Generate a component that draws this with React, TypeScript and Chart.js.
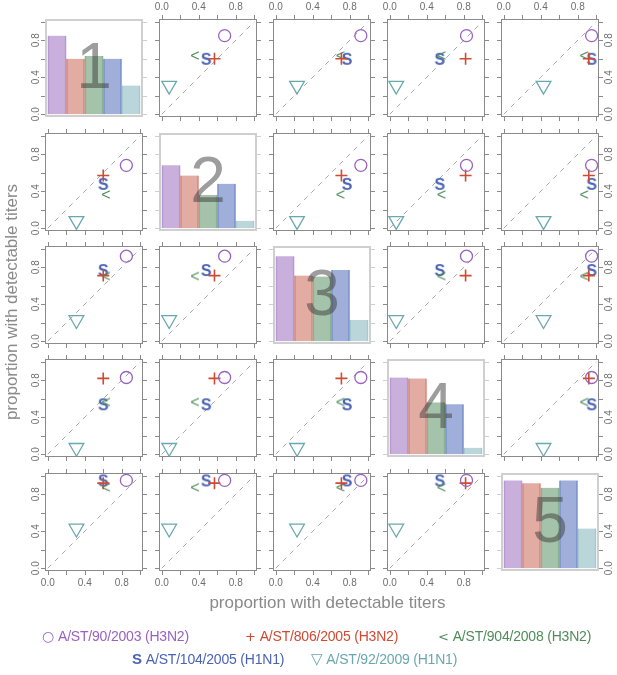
import React, { useEffect, useRef } from 'react';
import { Chart, registerables } from 'chart.js';
Chart.register(...registerables);

// ---------------- data ----------------
const strainNames = [
  'A/ST/90/2003 (H3N2)',
  'A/ST/806/2005 (H3N2)',
  'A/ST/904/2008 (H3N2)',
  'A/ST/104/2005 (H1N1)',
  'A/ST/92/2009 (H1N1)',
];
const strainSymbols = ['○', '+', '<', 'S', '▽'];
const strainColors = ['#9a62c0', '#cf4a33', '#4f8c5a', '#4a63b5', '#6aa8b0'];
const barFills = [
  'rgba(145,95,185,0.5)',
  'rgba(190,70,50,0.45)',
  'rgba(75,135,85,0.5)',
  'rgba(65,95,180,0.5)',
  'rgba(105,165,175,0.45)',
];
const groupLabels = ['1', '2', '3', '4', '5'];
const group1 = [0.85, 0.6, 0.63, 0.6, 0.31];
const group2 = [0.68, 0.57, 0.36, 0.48, 0.08];
const group3 = [0.92, 0.71, 0.7, 0.77, 0.23];
const group4 = [0.83, 0.82, 0.56, 0.54, 0.07];
const group5 = [0.95, 0.92, 0.87, 0.95, 0.43];
const groups = [group1, group2, group3, group4, group5];
const tickValues = [0, 0.2, 0.4, 0.6, 0.8, 1];
const labeledTicks = [0, 0.4, 0.8];
const tickLabels = ['0.0', '0.4', '0.8'];
const axisTitle = 'proportion with detectable titers';

// ---------------- layout ----------------
const COL_X = [45, 159, 273, 387, 501];
const ROW_Y = [19, 133, 246, 359, 473];
const PANEL = 98;
const MARGIN = 26;
const FONT = '"Liberation Sans", Arial, sans-serif';

function makeGlyph(text: string, color: string, font: string, dy: number) {
  const c = document.createElement('canvas');
  c.width = 24;
  c.height = 24;
  const g = c.getContext('2d')!;
  g.font = font;
  g.fillStyle = color;
  g.textAlign = 'center';
  g.textBaseline = 'alphabetic';
  g.fillText(text, 12, 12 + dy);
  return c;
}

function Panel({ row, col }: { row: number; col: number }) {
  const ref = useRef<HTMLCanvasElement>(null);
  useEffect(() => {
    const isDiag = row === col;
    const n = strainNames.length;

    const decorPlugin = {
      id: 'decor',
      afterDatasetsDraw(chart: any) {
        if (!isDiag) return;
        const { ctx, chartArea: a } = chart;
        ctx.save();
        ctx.font = `64px ${FONT}`;
        ctx.fillStyle = 'rgba(60,60,60,0.5)';
        ctx.textAlign = 'center';
        ctx.textBaseline = 'alphabetic';
        ctx.fillText(groupLabels[row], (a.left + a.right) / 2, (a.top + a.bottom) / 2 + 20);
        ctx.restore();
      },
      afterDraw(chart: any) {
        const { ctx, chartArea: a, scales } = chart;
        const xs = scales.x;
        const ys = scales.y;
        const dark = '#8a8a8a';
        const light = '#cfcfcf';
        ctx.save();
        ctx.lineWidth = 1;
        if (isDiag) {
          ctx.strokeStyle = light;
          ctx.lineWidth = 2;
          ctx.strokeRect(a.left + 1, a.top + 1, a.right - a.left - 2, a.bottom - a.top - 2);
          ctx.lineWidth = 1;
        } else {
          ctx.strokeStyle = dark;
          ctx.strokeRect(a.left + 0.5, a.top + 0.5, a.right - a.left - 1, a.bottom - a.top - 1);
        }
        const L = 4;
        const drawTicks = (side: string, color: string) => {
          ctx.strokeStyle = color;
          ctx.beginPath();
          for (const v of tickValues) {
            if (side === 'top' || side === 'bottom') {
              const px = Math.round(xs.getPixelForValue(v)) + 0.5;
              const y0 = side === 'top' ? a.top : a.bottom;
              const dir = side === 'top' ? -1 : 1;
              ctx.moveTo(px, y0);
              ctx.lineTo(px, y0 + dir * L);
            } else {
              const py = Math.round(ys.getPixelForValue(v)) + 0.5;
              const x0 = side === 'left' ? a.left : a.right;
              const dir = side === 'left' ? -1 : 1;
              ctx.moveTo(x0, py);
              ctx.lineTo(x0 + dir * L, py);
            }
          }
          ctx.stroke();
        };
        if (isDiag) {
          drawTicks('left', col === 0 ? dark : light);
          drawTicks('right', col === n - 1 ? dark : light);
        } else {
          drawTicks('top', dark);
          drawTicks('bottom', dark);
          drawTicks('left', dark);
          drawTicks('right', dark);
        }
        ctx.fillStyle = '#6e6e6e';
        ctx.font = `10px ${FONT}`;
        ctx.textAlign = 'center';
        ctx.textBaseline = 'middle';
        labeledTicks.forEach((v, i) => {
          const t = tickLabels[i];
          if (row === 0 && col > 0) {
            ctx.fillText(t, xs.getPixelForValue(v), a.top - 12);
          }
          if (row === n - 1 && col < n - 1) {
            ctx.fillText(t, xs.getPixelForValue(v), a.bottom + 12);
          }
          if (col === 0) {
            ctx.save();
            ctx.translate(a.left - 9, ys.getPixelForValue(v));
            ctx.rotate(-Math.PI / 2);
            ctx.fillText(t, 0, 0);
            ctx.restore();
          }
          if (col === n - 1) {
            ctx.save();
            ctx.translate(a.right + 10, ys.getPixelForValue(v));
            ctx.rotate(-Math.PI / 2);
            ctx.fillText(t, 0, 0);
            ctx.restore();
          }
        });
        ctx.restore();
      },
    };

    let data: any;
    if (isDiag) {
      data = {
        datasets: [
          {
            data: groups[row].map((v, i) => ({ x: (i + 0.5) / n, y: v })),
            backgroundColor: barFills,
            borderColor: barFills,
            borderWidth: { left: 1, right: 1, top: 0, bottom: 0 },
            borderSkipped: false,
            categoryPercentage: 1,
            barPercentage: 1,
          },
        ],
      };
    } else {
      const glyphS = makeGlyph('S', strainColors[3], `bold 16px ${FONT}`, 6);
      const glyphLt = makeGlyph('<', strainColors[2], `16px ${FONT}`, 5);
      const styles: any[] = ['circle', 'cross', glyphLt, glyphS, 'triangle'];
      const radii = [6, 6, 6, 6, 8.5];
      const rotations = [0, 0, 0, 0, 180];
      data = {
        datasets: [
          ...strainNames.map((name, k) => ({
            label: name,
            data: [{ x: groups[col][k], y: groups[row][k] }],
            pointStyle: styles[k],
            pointRadius: radii[k],
            pointRotation: rotations[k],
            pointBorderColor: strainColors[k],
            pointBackgroundColor: 'rgba(0,0,0,0)',
            pointBorderWidth: k === 1 ? 1.6 : 1.3,
            showLine: false,
            order: k,
          })),
          {
            label: 'diag',
            data: [
              { x: 0, y: 0 },
              { x: 1, y: 1 },
            ],
            showLine: true,
            borderColor: '#a8a8a8',
            borderWidth: 1,
            borderDash: [5, 5],
            pointRadius: 0,
            order: 20,
          },
        ],
      };
    }

    const chart = new Chart(ref.current!, {
      type: isDiag ? 'bar' : 'scatter',
      data,
      options: {
        animation: false,
        responsive: false,
        events: [],
        layout: { padding: MARGIN },
        plugins: { legend: { display: false }, tooltip: { enabled: false } },
        scales: {
          x: {
            type: 'linear',
            min: -0.03,
            max: 1.03,
            display: false,
            offset: false,
            ticks: { stepSize: 0.2, includeBounds: false },
          },
          y: {
            type: 'linear',
            min: -0.03,
            max: 1.03,
            display: false,
            ticks: { stepSize: 0.2, includeBounds: false },
          },
        },
      } as any,
      plugins: [decorPlugin],
    });
    return () => chart.destroy();
  }, [row, col]);

  const size = PANEL + 2 * MARGIN;
  return (
    <canvas
      ref={ref}
      width={size}
      height={size}
      style={{
        position: 'absolute',
        left: COL_X[col] - MARGIN,
        top: ROW_Y[row] - MARGIN,
        width: size,
        height: size,
      }}
    />
  );
}

const legendPos = [
  { left: 42, top: 627 },
  { left: 245, top: 627 },
  { left: 438, top: 627 },
  { left: 132, top: 650 },
  { left: 311, top: 650 },
];
const symbolSizes = [14, 13, 13, 15, 15];

export default function App() {
  const panels: any[] = [];
  for (let r = 0; r < groups.length; r++) {
    for (let c = 0; c < groups.length; c++) {
      panels.push(<Panel key={`${r}-${c}`} row={r} col={c} />);
    }
  }
  return (
    <div
      style={{
        position: 'fixed',
        left: 0,
        top: 0,
        width: 617,
        height: 675,
        background: '#fff',
        fontFamily: FONT,
        overflow: 'hidden',
      }}
    >
      {panels}
      <div
        style={{
          position: 'absolute',
          left: 51,
          width: 553,
          top: 593,
          textAlign: 'center',
          fontSize: 17,
          color: '#8a8a8a',
          whiteSpace: 'nowrap',
        }}
      >
        {axisTitle}
      </div>
      <div
        style={{
          position: 'absolute',
          left: 12 - 150,
          top: 302 - 10,
          width: 300,
          height: 20,
          lineHeight: '20px',
          textAlign: 'center',
          fontSize: 17,
          color: '#8a8a8a',
          whiteSpace: 'nowrap',
          transform: 'rotate(-90deg)',
        }}
      >
        {axisTitle}
      </div>
      {strainNames.map((name, k) => (
        <div
          key={name}
          style={{
            position: 'absolute',
            left: legendPos[k].left,
            top: legendPos[k].top,
            fontSize: 14,
            lineHeight: '18px',
            color: strainColors[k],
            whiteSpace: 'nowrap',
            fontFamily: FONT,
            letterSpacing: '-0.2px',
          }}
        >
          <span
            style={{
              fontFamily: k === 3 ? FONT : '"DejaVu Sans", sans-serif',
              fontWeight: k === 3 ? 'bold' : 'normal',
              fontSize: symbolSizes[k],
              marginRight: 4,
            }}
          >
            {strainSymbols[k]}
          </span>
          {name}
        </div>
      ))}
    </div>
  );
}
